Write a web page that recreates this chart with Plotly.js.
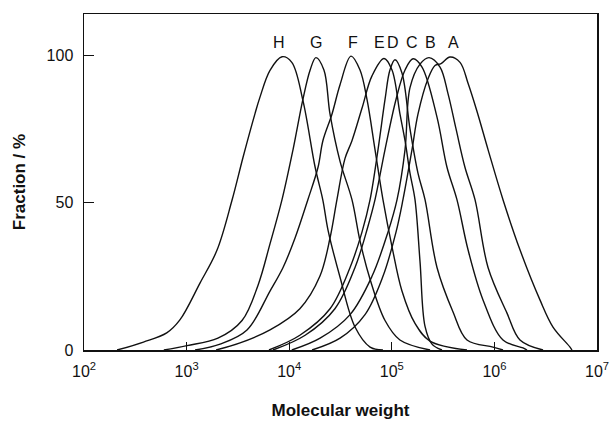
<!DOCTYPE html>
<html>
<head>
<meta charset="utf-8">
<script src="https://cdn.plot.ly/plotly-3.0.1.min.js"></script>
<style>
  html, body { margin: 0; padding: 0; background: #fff; }
  #chart { width: 611px; height: 423px; }
</style>
</head>
<body>
<div id="chart"></div>
<script>
// Molecular weight distributions of fractions H (lowest) to A (highest).
// x: molecular weight, y: fraction (%)
const mwH = [210, 380, 640, 860, 1350, 1980, 2770, 3550, 4650, 5190, 6500, 8510, 10600, 13600, 17900, 21300, 23900, 31300, 43800, 61400, 82000];
const fracH = [0, 2.7, 5.8, 10.2, 22.7, 33.9, 50.8, 65.4, 80.3, 85.8, 94.9, 99.5, 97.6, 84.7, 62, 50.8, 40.7, 24.7, 7.8, 1, 0];

const mwG = [600, 1010, 2020, 3470, 4970, 6500, 8510, 10900, 13600, 16000, 18200, 21800, 25000, 31300, 40900, 49000, 61400, 85900, 120000, 236000];
const fracG = [0, 1.5, 4, 10, 22, 36, 51, 68, 85, 95, 99.2, 95, 80, 64, 51, 37, 24, 10, 3.4, 0];

const mwF = [1210, 2120, 3880, 6500, 8710, 11400, 15200, 19100, 21300, 26100, 31300, 40000, 49000, 57300, 68600, 82000, 100500, 125600, 168300, 235500, 540800];
const fracF = [0, 2, 6.8, 20, 28, 38, 51, 62, 71, 80, 90, 99.7, 95, 85, 68, 51, 35, 20, 9, 3, 0];

const mwE = [1940, 3320, 6500, 12700, 19900, 25000, 29200, 35000, 40900, 51200, 64100, 84000, 100500, 120200, 134600, 150400, 168300, 188400, 210800, 246600, 308300];
const fracE = [0, 2.4, 6.8, 14, 25, 38, 51, 65, 71, 82, 93, 98.9, 95, 80, 71, 60, 51, 30, 8, 2, 0];

const mwD = [6350, 12700, 25000, 39200, 51200, 61400, 73400, 85900, 95900, 107400, 125600, 150400, 179900, 210800, 275800, 394500, 540800, 968300, 1213000];
const fracD = [0, 5, 14, 28, 40, 51, 68, 85, 95, 98.5, 94, 75, 60, 51, 28, 13, 3.4, 1, 0];

const mwC = [6950, 14300, 27900, 43800, 58600, 68600, 85900, 109900, 134600, 161100, 197000, 275800, 345100, 431500, 553400, 774500, 1213000, 1901000, 2080000];
const fracC = [0, 5, 14, 28, 42, 51, 68, 85, 95, 98.8, 96, 79, 62, 51, 34, 17, 3.4, 0.7, 0];

const mwB = [10600, 20000, 39200, 64100, 91800, 112500, 134600, 150400, 188400, 230700, 295100, 353000, 422700, 516400, 647100, 867000, 1327000, 1775000, 2979000];
const fracB = [0, 4, 12, 25, 40, 51, 68, 89, 97, 99.2, 96, 87, 75, 62, 51, 28, 12.5, 3.4, 0];

const mwA = [16700, 31300, 54800, 82000, 109900, 128500, 157400, 179900, 225400, 263600, 302000, 369000, 462400, 553400, 676100, 867000, 1213000, 1775000, 2780000, 3724000, 5458000, 5702000];
const fracA = [0, 4, 12, 25, 40, 51, 68, 80, 92, 96.5, 97.2, 99.4, 97.6, 90.5, 81, 68, 51, 34, 17, 7.8, 1, 0];

const seriesNames = ['H', 'G', 'F', 'E', 'D', 'C', 'B', 'A'];
const seriesMW = [mwH, mwG, mwF, mwE, mwD, mwC, mwB, mwA];
const seriesFrac = [fracH, fracG, fracF, fracE, fracD, fracC, fracB, fracA];

// where each curve's letter sits above its peak
const labelMW = [7960, 18200, 41900, 76700, 102800, 157400, 241000, 403600];
const labelFrac = 104.5;

const xTickVals = [1e2, 1e3, 1e4, 1e5, 1e6, 1e7];
const xTickText = ['10<sup>2</sup>', '10<sup>3</sup>', '10<sup>4</sup>', '10<sup>5</sup>', '10<sup>6</sup>', '10<sup>7</sup>'];
const yTickVals = [0, 50, 100];

const ink = '#111';
const fontFamily = 'Liberation Sans, Arial, sans-serif';

const traces = seriesNames.map((name, i) => ({
  type: 'scatter',
  mode: 'lines',
  name: name,
  x: seriesMW[i],
  y: seriesFrac[i],
  line: { color: ink, width: 1.4, shape: 'spline', smoothing: 1.0 },
  hoverinfo: 'name+x+y'
}));

const annotations = seriesNames.map((name, i) => ({
  x: Math.log10(labelMW[i]),
  y: labelFrac,
  xref: 'x',
  yref: 'y',
  text: name,
  showarrow: false,
  font: { family: fontFamily, size: 16, color: ink }
}));

const layout = {
  width: 611,
  height: 423,
  margin: { l: 84, r: 14, t: 14, b: 73, pad: 0 },
  paper_bgcolor: '#fff',
  plot_bgcolor: '#fff',
  showlegend: false,
  font: { family: fontFamily, color: ink },
  xaxis: {
    type: 'log',
    range: [2, 7],
    tickmode: 'array',
    tickvals: xTickVals,
    ticktext: xTickText,
    ticks: 'inside',
    ticklen: 8,
    tickwidth: 1.3,
    tickcolor: ink,
    tickfont: { size: 16, color: ink },
    ticklabelstandoff: 6,
    showgrid: false,
    zeroline: false,
    showline: true,
    linecolor: ink,
    linewidth: 1.5,
    mirror: true,
    title: { text: '<b>Molecular weight</b>', font: { size: 17, color: ink }, standoff: 25 }
  },
  yaxis: {
    range: [0, 114],
    tickmode: 'array',
    tickvals: yTickVals,
    ticks: 'inside',
    ticklen: 10,
    tickwidth: 1.3,
    tickcolor: ink,
    tickfont: { size: 16, color: ink },
    ticklabelstandoff: 6,
    showgrid: false,
    zeroline: false,
    showline: true,
    linecolor: ink,
    linewidth: 1.5,
    mirror: true,
    title: { text: '<b>Fraction / %</b>', font: { size: 17, color: ink }, standoff: 16 }
  },
  annotations: annotations
};

Plotly.newPlot('chart', traces, layout, { staticPlot: true, displayModeBar: false });
</script>
</body>
</html>
